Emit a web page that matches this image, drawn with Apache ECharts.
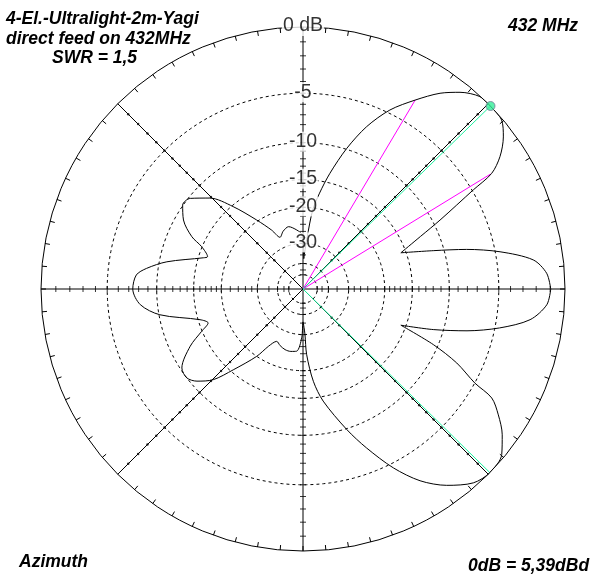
<!DOCTYPE html>
<html><head><meta charset="utf-8">
<script src="https://cdn.jsdelivr.net/npm/echarts@6/dist/echarts.min.js"></script>
<style>html,body{margin:0;padding:0;background:#fff}#c{width:616px;height:587px}</style>
</head><body><div id="c"></div>
<script>
// Azimuth pattern (degrees CCW from east) and relative gain in dB
const azimuthDeg = [0, 3.7, 7.2, 10.7, 13.6, 16.4, 20.3, 24.1, 26.7, 30.2, 31.5, 33.9, 37.2, 40.4, 44.3, 47.4, 51.4, 55, 59.3, 64.1, 68.6, 72.7, 76.9, 80.2, 83, 85.5, 87.5, 88.5, 89.5, 91, 96, 103, 109, 114, 118, 123.9, 130.3, 135.7, 141.2, 145.1, 150, 154.8, 157.3, 161.3, 162.6, 168.7, 172.5, 175.2, 180, 185.5, 190.2, 196.6, 199.7, 202.7, 206.9, 213.1, 217.4, 221, 225.3, 229.2, 235.5, 239, 243.3, 248, 253.5, 259, 264.2, 268.5, 270, 271.5, 272.5, 273.2, 276.4, 280.2, 287.3, 291.8, 296.8, 301.4, 306.2, 311.3, 315.5, 320.2, 323.8, 327.2, 330, 331.3, 334.3, 336.9, 339.7, 342.7, 345.7, 348.8, 352.3, 356.3, 360];
const gainDb = [-0.96, -1.21, -2.08, -4.59, -7.59, -11.28, -15.8, -12.2, -9.19, -4.89, -2.9, -1.7, -0.7, -0.08, 0, -0.04, -0.69, -1.58, -3.02, -4.72, -6.99, -9.88, -13.57, -17, -20.5, -28, -34, -37, -33, -27, -25.5, -24.2, -25, -26.3, -23.5, -19.7, -15.2, -12.0, -10.2, -9.95, -11.0, -13.0, -14.9, -16.4, -15.8, -10.9, -8.7, -7.7, -7.4, -8.1, -10.1, -15.3, -16.4, -14.9, -12.5, -10.2, -10.0, -10.7, -12.35, -15.4, -20.0, -23.5, -25.7, -25, -24.4, -24.3, -24.6, -28.8, -35.6, -33, -30, -23.7, -17.8, -14.3, -9.9, -7.3, -4.6, -2.64, -1.27, -0.26, 0, -0.22, -1.02, -2.06, -3.16, -4.98, -7.36, -10.55, -15.8, -11.2, -7.5, -4.6, -2.3, -1.2, -0.96];

const ringDb = [-5, -10, -15, -20, -30, -40, -50];
const ringLabelDb = [0, -5, -10, -15, -20, -30];
const ringLabels = ['0 dB', '-5', '-10', '-15', '-20', '-30'];
const tickDb = [-1,-2,-3,-4,-5,-6,-7,-8,-9,-10,-11,-12,-13,-14,-15,-16,-17,-18,-19,-20,-22,-24,-26,-28,-30,-35,-40,-45,-50];
const dotDb = [-1,-2,-3,-4,-5,-6,-7,-8,-9,-10,-12,-14,-16,-18,-20,-24,-28,-32,-40];
const crossH = [0, 180];
const crossV = [90, 270];
const diagAz = [45, 135, 225, 315];
const maxAz = [44.3, 315.5];
const halfPowerAz = [31.5, 59.3];
const halfPowerDb = -3;

const titleLines = ['4-El.-Ultralight-2m-Yagi', 'direct feed on 432MHz', 'SWR = 1,5'];
const freqText = '432 MHz';
const planeText = 'Azimuth';
const refText = '0dB = 5,39dBd';

// ARRL log scale: radius shrinks by 0.89 per 2 dB
const arrl = db => Math.pow(0.89, -db / 2);

const chart = echarts.init(document.getElementById('c'), null, {renderer: 'canvas'});
const series = [];

ringDb.forEach(db => {
  const pts = [];
  for (let a = 0; a <= 360; a += 1) pts.push([arrl(db), a]);
  series.push({type: 'line', coordinateSystem: 'polar', data: pts, showSymbol: false, silent: true,
    lineStyle: {color: '#000', width: 1, type: [3, 3]}, z: 1, animation: false});
});

series.push({type: 'scatter', coordinateSystem: 'polar', silent: true, animation: false, z: 3,
  data: crossH.flatMap(a => tickDb.map(db => [arrl(db), a])),
  symbol: 'rect', symbolSize: [1, 6], itemStyle: {color: '#000'}});
series.push({type: 'scatter', coordinateSystem: 'polar', silent: true, animation: false, z: 3,
  data: crossV.flatMap(a => tickDb.map(db => [arrl(db), a])),
  symbol: 'rect', symbolSize: [6, 1], itemStyle: {color: '#000'}});
series.push({type: 'scatter', coordinateSystem: 'polar', silent: true, animation: false, z: 3,
  data: diagAz.flatMap(a => dotDb.map(db => [arrl(db), a])),
  symbol: 'circle', symbolSize: 2.5, itemStyle: {color: '#000'}});

halfPowerAz.forEach(a => {
  series.push({type: 'line', coordinateSystem: 'polar', showSymbol: false, silent: true, animation: false, z: 4,
    data: [[0, a], [arrl(halfPowerDb), a]], lineStyle: {color: '#ff00ff', width: 1}});
});
maxAz.forEach(a => {
  series.push({type: 'line', coordinateSystem: 'polar', showSymbol: false, silent: true, animation: false, z: 4,
    data: [[0, a], [arrl(0), a]], lineStyle: {color: '#1ef0a0', width: 1}});
});

series.push({type: 'line', coordinateSystem: 'polar', showSymbol: false, silent: true, animation: false, z: 5,
  smooth: 0.3,
  data: azimuthDeg.map((a, i) => [arrl(gainDb[i]), a]),
  lineStyle: {color: '#000', width: 1}});

series.push({type: 'scatter', coordinateSystem: 'polar', silent: true, animation: false, z: 6,
  data: [[arrl(0), maxAz[0]]], symbol: 'circle', symbolSize: 9,
  itemStyle: {color: '#33ee99', borderColor: '#7a7a9a', borderWidth: 1}});

series.push({type: 'scatter', coordinateSystem: 'polar', silent: true, animation: false, z: 10,
  data: ringLabelDb.map((db, i) => ({value: [arrl(db), 90], name: ringLabels[i]})),
  symbolSize: 1, itemStyle: {color: 'rgba(0,0,0,0)'},
  label: {show: true, position: 'inside', formatter: p => p.name, color: '#000',
    fontFamily: '"Liberation Sans", Arial, sans-serif', fontSize: 19.5, backgroundColor: '#fff', padding: [0, 1],
    offset: [0, -1]}});

const tFont = 'italic bold 17.5px "Liberation Sans", Arial, sans-serif';
const txt = (text, x, y) => ({type: 'text', x: x, y: y, silent: true,
  style: {text: text, font: tFont, fill: '#000', align: 'left', verticalAlign: 'middle'}});

chart.setOption({
  animation: false,
  backgroundColor: '#fff',
  polar: {center: [303, 289], radius: 262},
  angleAxis: {type: 'value', min: 0, max: 360, interval: 45, startAngle: 0, clockwise: false,
    axisLine: {show: true, lineStyle: {color: '#000', width: 1}},
    axisTick: {show: true, inside: true, length: 5, lineStyle: {color: '#000'}},
    minorTick: {show: true, splitNumber: 9, length: 5, lineStyle: {color: '#000'}},
    axisLabel: {show: false},
    splitLine: {show: true, lineStyle: {color: '#000', width: 1}}},
  radiusAxis: {type: 'value', min: 0, max: 1, show: false,
    axisLine: {show: false}, axisTick: {show: false}, axisLabel: {show: false}, splitLine: {show: false}},
  graphic: [
    txt(titleLines[0], 6, 19),
    txt(titleLines[1], 6, 39),
    txt(titleLines[2], 52, 58.5),
    txt(freqText, 508, 26),
    txt(planeText, 19, 562),
    txt(refText, 468, 566)
  ],
  series: series
});
</script></body></html>
